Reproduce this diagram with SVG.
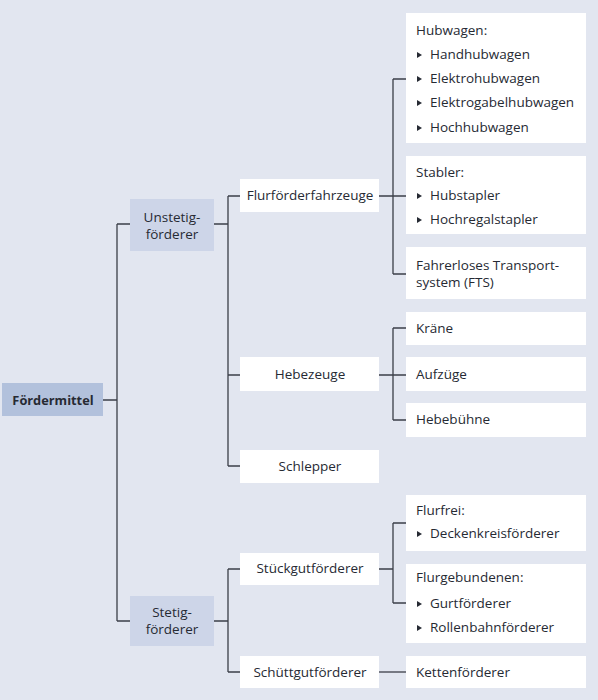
<svg xmlns="http://www.w3.org/2000/svg" width="598" height="700" viewBox="0 0 598 700">
<defs>
<style>
text{font-family:"Open Sans","Noto Sans","Liberation Sans",sans-serif;font-size:13.5px;fill:#262a33}
.b{font-weight:bold;font-size:12.8px}
.c{text-anchor:middle}
.w{fill:#ffffff}
.cat{fill:#cdd5e8}
.root{fill:#b2c1dc}
.ln{fill:none;stroke:#3b3f48;stroke-width:1.3}
.bul{fill:#262a33}
</style>
<polygon id="tri" points="0,-3 5,0 0,3"/>
</defs>
<rect x="0" y="0" width="598" height="700" fill="#e2e6f0"/>
<g id="connectors" class="ln">
<path d="M103,400H117M117,224V621M117,224H130M117,621H130"/>
<path d="M214,224H228M228,196V466M228,196H240M228,375H240M228,466H240"/>
<path d="M379,196H406M393,79V274M393,79H406M393,274H406"/>
<path d="M379,375H406M393,328V420M393,328H406M393,420H406"/>
<path d="M214,621H228M228,569V672M228,569H240M228,672H240"/>
<path d="M379,569H393M393,523V603M393,523H406M393,603H406"/>
<path d="M379,672H406"/>
</g>
<g id="n-foerdermittel"><rect class="root" x="2" y="383" width="101" height="33"/><text class="b c" x="53" y="405">Fördermittel</text></g>
<g id="n-unstetig"><rect class="cat" x="130" y="199" width="84" height="52"/><text class="c" x="172" y="222">Unstetig-</text><text class="c" x="172" y="239">förderer</text></g>
<g id="n-stetig"><rect class="cat" x="130" y="596" width="84" height="50"/><text class="c" x="172" y="617">Stetig-</text><text class="c" x="172" y="634">förderer</text></g>
<g id="n-flurfoerderfahrzeuge"><rect class="w" x="240" y="179" width="139" height="33"/><text class="c" x="310" y="200">Flurförderfahrzeuge</text></g>
<g id="n-hebezeuge"><rect class="w" x="240" y="357" width="139" height="34"/><text class="c" x="310" y="379">Hebezeuge</text></g>
<g id="n-schlepper"><rect class="w" x="240" y="450" width="139" height="33"/><text class="c" x="310" y="471">Schlepper</text></g>
<g id="n-stueckgut"><rect class="w" x="240" y="553" width="139" height="32"/><text class="c" x="310" y="573">Stückgutförderer</text></g>
<g id="n-schuettgut"><rect class="w" x="240" y="656" width="139" height="32"/><text class="c" x="310" y="677">Schüttgutförderer</text></g>
<g id="n-hubwagen"><rect class="w" x="406" y="13" width="180" height="130"/>
<text x="416" y="35">Hubwagen:</text>
<use href="#tri" class="bul" x="417" y="55"/><text x="430" y="59">Handhubwagen</text>
<use href="#tri" class="bul" x="417" y="79"/><text x="430" y="83">Elektrohubwagen</text>
<use href="#tri" class="bul" x="417" y="103"/><text x="430" y="107">Elektrogabelhubwagen</text>
<use href="#tri" class="bul" x="417" y="128"/><text x="430" y="132">Hochhubwagen</text></g>
<g id="n-stabler"><rect class="w" x="406" y="156" width="180" height="78"/>
<text x="416" y="177">Stabler:</text>
<use href="#tri" class="bul" x="417" y="196"/><text x="430" y="200">Hubstapler</text>
<use href="#tri" class="bul" x="417" y="220"/><text x="430" y="224">Hochregalstapler</text></g>
<g id="n-fts"><rect class="w" x="406" y="247" width="180" height="52"/>
<text x="416" y="270">Fahrerloses Transport-</text><text x="416" y="287">system (FTS)</text></g>
<g id="n-kraene"><rect class="w" x="406" y="312" width="180" height="33"/><text x="416" y="333">Kräne</text></g>
<g id="n-aufzuege"><rect class="w" x="406" y="357" width="180" height="34"/><text x="416" y="379">Aufzüge</text></g>
<g id="n-hebebuehne"><rect class="w" x="406" y="403" width="180" height="34"/><text x="416" y="424">Hebebühne</text></g>
<g id="n-flurfrei"><rect class="w" x="406" y="495" width="180" height="56"/>
<text x="416" y="515">Flurfrei:</text>
<use href="#tri" class="bul" x="417" y="534"/><text x="430" y="538">Deckenkreisförderer</text></g>
<g id="n-flurgebunden"><rect class="w" x="406" y="564" width="180" height="79"/>
<text x="416" y="582">Flurgebundenen:</text>
<use href="#tri" class="bul" x="417" y="604"/><text x="430" y="608">Gurtförderer</text>
<use href="#tri" class="bul" x="417" y="628"/><text x="430" y="632">Rollenbahnförderer</text></g>
<g id="n-kettenfoerderer"><rect class="w" x="406" y="656" width="180" height="32"/><text x="416" y="677">Kettenförderer</text></g>
</svg>
